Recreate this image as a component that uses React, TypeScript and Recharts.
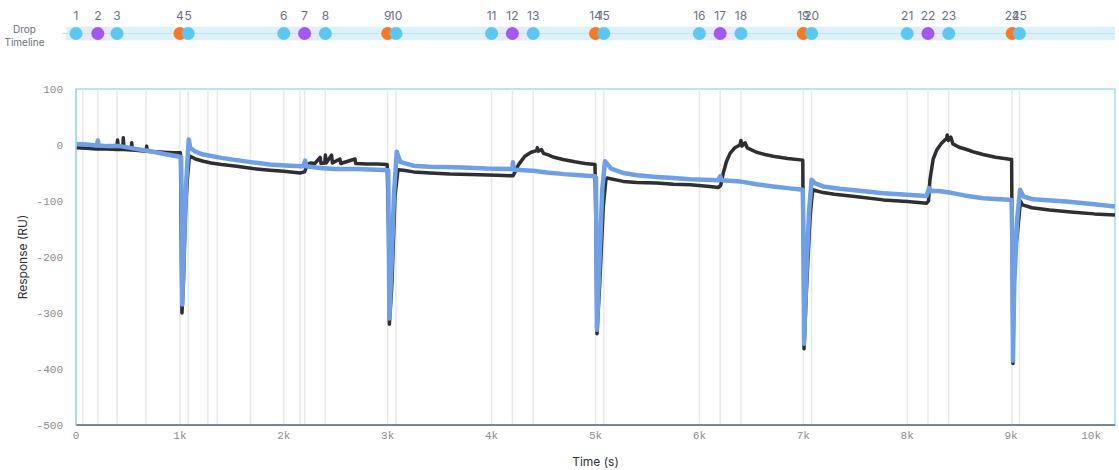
import {
  Label,
  Line,
  LineChart,
  ReferenceArea,
  ReferenceLine,
  Scatter,
  ScatterChart,
  XAxis,
  YAxis,
} from "recharts";

// drop events (s) and what kind of drop each one is
const dropTimes = [
  0, 210, 395, 1000, 1080, 2000, 2200, 2400, 3000, 3080, 4000, 4200, 4400, 5000, 5080,
  6000, 6200, 6400, 7000, 7080, 8000, 8200, 8400, 9010, 9080,
];
const dropKinds = [
  "sample", "ref", "sample", "regen", "sample",
  "sample", "ref", "sample", "regen", "sample",
  "sample", "ref", "sample", "regen", "sample",
  "sample", "ref", "sample", "regen", "sample",
  "sample", "ref", "sample", "regen", "sample",
];
// extra event markers drawn in the sensorgram
const extraMarkers = [65, 675, 1270, 1360, 1680, 2155];

const timeTicks = [0, 1000, 2000, 3000, 4000, 5000, 6000, 7000, 8000, 9000, 10000];
const responseTicks = [-500, -400, -300, -200, -100, 0, 100];

// active channel (time s, response RU)
const activeTrace: [number, number][] = [
  [0, -5], [100, -6], [200, -7], [300, -7], [390, -8], [400, 9], [410, -8], [450, -8],
  [455, 13], [462, -8], [530, -9], [536, 4], [542, -9], [600, -10], [676, -11], [680, -2],
  [686, -11], [760, -12], [850, -13], [940, -14], [1005, -14], [1012, -150], [1020, -300],
  [1035, -240], [1050, -134], [1070, -65], [1090, -22], [1100, -20], [1150, -25], [1225, -29],
  [1300, -32], [1400, -35], [1546, -38], [1700, -42], [1867, -45], [2000, -47], [2156, -50],
  [2200, -48], [2230, -34], [2260, -32], [2300, -33], [2350, -22], [2358, -33], [2395, -32],
  [2400, -18], [2408, -32], [2460, -18], [2468, -32], [2540, -25], [2548, -33], [2685, -25],
  [2692, -33], [2800, -34], [2900, -34], [2995, -35], [3008, -150], [3016, -320], [3040, -250],
  [3070, -92], [3099, -44], [3150, -45], [3250, -48], [3407, -50], [3600, -52], [3888, -53],
  [4050, -54], [4207, -55], [4215, -52], [4260, -35], [4320, -20], [4380, -13], [4434, -10],
  [4440, -5], [4450, -11], [4480, -8], [4500, -15], [4550, -18], [4600, -22], [4688, -26],
  [4800, -30], [4900, -33], [4995, -35], [5005, -160], [5014, -337], [5040, -250], [5075, -110],
  [5100, -62], [5110, -59], [5268, -65], [5400, -67], [5589, -68], [5750, -70], [5910, -71],
  [6100, -74], [6180, -76], [6205, -72], [6230, -50], [6260, -30], [6295, -15], [6340, -5],
  [6390, 0], [6400, 8], [6410, -2], [6440, 4], [6460, -5], [6550, -13], [6630, -17],
  [6710, -20], [6850, -24], [6995, -27], [7000, -160], [7007, -364], [7030, -260], [7065, -130],
  [7090, -80], [7190, -85], [7300, -88], [7497, -92], [7770, -98], [8000, -101], [8187, -104],
  [8205, -100], [8219, -62], [8250, -25], [8284, -9], [8330, 3], [8380, 12], [8385, 18],
  [8395, 8], [8420, 14], [8440, 2], [8500, -4], [8573, -8], [8650, -13], [8730, -17],
  [8850, -22], [9005, -26], [9010, -180], [9018, -390], [9030, -200], [9060, -160], [9090, -100],
  [9110, -107], [9200, -112], [9370, -116], [9600, -120], [9800, -123], [10000, -125],
];

// reference channel
const referenceTrace: [number, number][] = [
  [0, 2], [100, 1], [200, -1], [210, 8], [220, -1], [300, -2], [423, -2], [550, -6],
  [712, -11], [850, -16], [1000, -21], [1012, -22], [1018, -150], [1022, -285], [1040, -180],
  [1060, -70], [1085, 10], [1100, -5], [1150, -12], [1225, -17], [1400, -23], [1546, -27],
  [1700, -31], [1867, -35], [2050, -37], [2186, -38], [2205, -28], [2215, -38], [2350, -41],
  [2493, -43], [2700, -43], [2900, -44], [3005, -45], [3010, -150], [3016, -310], [3040, -200],
  [3060, -90], [3087, -12], [3120, -30], [3245, -37], [3400, -39], [3726, -40], [3950, -42],
  [4200, -43], [4205, -31], [4215, -44], [4400, -46], [4530, -49], [4700, -52], [4850, -54],
  [4995, -56], [5005, -58], [5008, -160], [5014, -330], [5040, -200], [5065, -80], [5091, -29],
  [5150, -42], [5268, -50], [5400, -54], [5589, -57], [5750, -59], [5910, -61], [6180, -63],
  [6200, -56], [6215, -63], [6390, -65], [6550, -70], [6710, -74], [6850, -77], [6995, -80],
  [7003, -170], [7007, -355], [7030, -230], [7055, -120], [7080, -62], [7110, -68], [7190, -74],
  [7350, -78], [7497, -81], [7770, -86], [8000, -89], [8187, -91], [8210, -77], [8230, -82],
  [8300, -82], [8412, -85], [8550, -90], [8730, -95], [8900, -97], [9005, -98], [9012, -180],
  [9018, -385], [9030, -250], [9060, -130], [9086, -80], [9120, -92], [9210, -97], [9530, -101],
  [9800, -106], [10000, -110],
];

const kindColor: Record<string, string> = {
  sample: "#5cc8f2",
  ref: "#a259f2",
  regen: "#f97a24",
};

const sans = "Inter, 'Noto Sans', sans-serif";
const mono = "'Liberation Mono', 'DejaVu Sans Mono', monospace";
const tickGray = "#8d8d8d";

const toPoints = (rows: [number, number][]) => rows.map(([t, v]) => ({ t, v }));

const DropDot = (props: any) => {
  const { cx, cy, payload } = props;
  return (
    <g>
      <circle cx={cx} cy={cy} r={6.5} fill={kindColor[payload.kind]} />
      <text x={cx} y={cy - 13.5} textAnchor="middle" fontSize={12} fill="#6b7280" fontFamily={sans}>
        {payload.n}
      </text>
    </g>
  );
};

const TimeTick = (props: any) => {
  const { x, y, payload } = props;
  const last = payload.value === 10000;
  return (
    <text
      x={last ? x + 2 : x}
      y={y + 14}
      textAnchor={last ? "end" : "middle"}
      fontSize={11}
      fill={tickGray}
      fontFamily={mono}
    >
      {payload.value === 0 ? "0" : `${payload.value / 1000}k`}
    </text>
  );
};

export default function App() {
  const drops = dropTimes.map((t, i) => ({ t, y: 0, n: i + 1, kind: dropKinds[i] }));
  const markers = [...dropTimes.slice(1), ...extraMarkers];
  const purple = dropTimes.filter((_, i) => dropKinds[i] === "ref");

  return (
    <div style={{ position: "absolute", left: 0, top: 0, width: 1119, height: 470, background: "#fff" }}>
      <div style={{ position: "absolute", left: 0, top: 0 }}>
        <LineChart width={1119} height={470} margin={{ top: 89, right: 4, bottom: 0, left: 0 }}>
          <XAxis
            dataKey="t"
            type="number"
            domain={[0, 10000]}
            ticks={timeTicks}
            allowDataOverflow
            height={45}
            tickLine={false}
            tickSize={0}
            tickMargin={0}
            tick={<TimeTick />}
            axisLine={{ stroke: "#7b8791", strokeWidth: 2 }}
          >
            <Label
              content={(p: any) => {
                const vb = p.viewBox;
                return (
                  <text
                    x={vb.x + vb.width / 2}
                    y={vb.y + 41}
                    textAnchor="middle"
                    fontSize={12}
                    fill="#333"
                    fontFamily={sans}
                  >
                    Time (s)
                  </text>
                );
              }}
            />
          </XAxis>
          <YAxis
            type="number"
            domain={[-500, 100]}
            ticks={responseTicks}
            allowDataOverflow
            width={76}
            tickLine={false}
            tickSize={0}
            tickMargin={13}
            tick={{ fontSize: 11, fill: tickGray, fontFamily: mono }}
            axisLine={{ stroke: "#a3dcf3", strokeWidth: 1.5 }}
          >
            <Label
              content={(p: any) => {
                const vb = p.viewBox;
                const cx = vb.x + 22;
                const cy = vb.y + vb.height / 2;
                return (
                  <text
                    x={cx}
                    y={cy}
                    transform={`rotate(-90, ${cx}, ${cy})`}
                    textAnchor="middle"
                    dominantBaseline="central"
                    fontSize={12}
                    fill="#333"
                    fontFamily={sans}
                  >
                    Response (RU)
                  </text>
                );
              }}
            />
          </YAxis>
          <ReferenceArea
            x1={0}
            x2={10000}
            y1={-500}
            y2={100}
            fill="none"
            stroke="#a3dcf3"
            strokeWidth={1.5}
            zIndex={0}
          />
          {markers.map((t) => (
            <ReferenceLine key={t} x={t} stroke="#e9e9e9" strokeWidth={1.5} zIndex={0} />
          ))}
          <Line
            data={toPoints(activeTrace)}
            dataKey="v"
            type="linear"
            stroke="#2e2e33"
            strokeWidth={3.5}
            dot={false}
            strokeLinejoin="round"
            isAnimationActive={false}
          />
          <Line
            data={toPoints(referenceTrace)}
            dataKey="v"
            type="linear"
            stroke="#6f9fe6"
            strokeWidth={4.5}
            dot={false}
            strokeLinejoin="round"
            isAnimationActive={false}
          />
        </LineChart>
      </div>

      <div style={{ position: "absolute", left: 0, top: 0 }}>
        <ScatterChart width={1119} height={55} margin={{ top: 12, right: 4, bottom: 0, left: 76 }}>
          <XAxis dataKey="t" type="number" domain={[0, 10000]} hide />
          <YAxis dataKey="y" type="number" domain={[-1, 1]} hide />
          <ReferenceArea x1={-95} x2={10000} y1={-0.31} y2={0.31} fill="#dcf1fa" fillOpacity={1} ifOverflow="visible" />
          {purple.map((t) => (
            <ReferenceArea
              key={t}
              x1={t - 160}
              x2={t + 160}
              y1={-0.31}
              y2={0.31}
              fill="#ece6fb"
              fillOpacity={0.7}
              ifOverflow="visible"
            />
          ))}
          <ReferenceLine
            segment={[{ x: -135, y: 0 }, { x: 10000, y: 0 }]}
            stroke="#c6e4f1"
            strokeWidth={1}
            ifOverflow="visible"
          />
          <Scatter data={drops} shape={(p: any) => <DropDot {...p} />} isAnimationActive={false} />
        </ScatterChart>
      </div>

      <div
        style={{
          position: "absolute",
          left: 0,
          top: 23,
          width: 49,
          textAlign: "center",
          fontFamily: sans,
          fontSize: 10,
          lineHeight: "13px",
          color: "#6b7280",
        }}
      >
        Drop
        <br />
        Timeline
      </div>
    </div>
  );
}
